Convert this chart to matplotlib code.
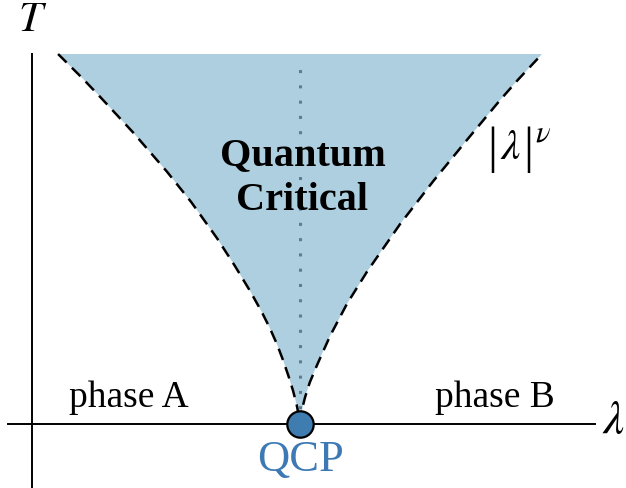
import matplotlib.pyplot as plt

lam_left = [-1.0, -0.9, -0.826, -0.69, -0.55, -0.45, -0.343, -0.27, -0.207, -0.16,
            -0.124, -0.095, -0.070, -0.048, -0.029, -0.014, -0.005, 0.0]
T_left = [1.0, 0.935, 0.884, 0.788, 0.682, 0.600, 0.502, 0.428, 0.360, 0.305,
          0.258, 0.215, 0.172, 0.130, 0.090, 0.052, 0.022, 0.0]
lam_right = [0.0, 0.005, 0.012, 0.021, 0.040, 0.070, 0.124, 0.194, 0.277, 0.413,
             0.55, 0.69, 0.826, 0.9, 1.0]
T_right = [0.0, 0.025, 0.050, 0.073, 0.112, 0.159, 0.238, 0.325, 0.412, 0.540,
           0.656, 0.768, 0.875, 0.93, 1.0]

qcp = (0.0, 0.0)

plt.rcParams['font.family'] = ['Liberation Serif', 'DejaVu Serif']
plt.rcParams['mathtext.fontset'] = 'stix'

fig = plt.figure(figsize=(6.26, 4.88), dpi=100)
ax = fig.add_axes([0, 0, 1, 1])
ax.set_xlim(-1.24, 1.347)
ax.set_ylim(-0.173, 1.146)
ax.axis('off')

# shaded critical fan
ax.fill(lam_left + lam_right, T_left + T_right, color='#aecfdf', lw=0, zorder=1)
ax.plot(lam_left, T_left, color='black', lw=1.8, ls=(0, (4.8, 3)), zorder=3)
ax.plot(lam_right, T_right, color='black', lw=1.8, ls=(0, (4.8, 3)), zorder=3)

# dotted centre line
ax.plot([0, 0], [0, 0.98], color='#5f7d8f', lw=2.2, ls=(0, (1, 4)), zorder=2)

# axes
ax.plot([-1.207, 1.219], [0, 0], color='black', lw=1.4, zorder=2)
ax.plot([-1.107, -1.107], [-0.18, 1.0], color='black', lw=1.4, zorder=2)

ax.plot(*qcp, 'o', ms=19, mfc='#3f7cb0', mec='black', mew=1.6, zorder=5)

ax.text(-1.107, 1.09, '$T$', fontsize=31, ha='center', va='center')
ax.text(1.295, 0.005, r'$\lambda$', fontsize=34, ha='center', va='center')
ax.text(0.01, 0.665, 'Quantum\nCritical', fontsize=29, fontweight='bold',
        ha='center', va='center', linespacing=1.3)

# |lambda|^nu label, bars drawn larger than the lambda
ax.text(0.793, 0.741, '|', fontsize=36, ha='center', va='center')
ax.text(0.868, 0.745, r'$\lambda$', fontsize=31, ha='center', va='center')
ax.text(0.942, 0.741, '|', fontsize=36, ha='center', va='center')
ax.text(1.002, 0.785, r'$\nu$', fontsize=22, ha='center', va='center')

ax.text(-0.707, 0.07, 'phase A', fontsize=27, ha='center', va='center')
ax.text(0.806, 0.07, 'phase B', fontsize=27, ha='center', va='center')
ax.text(0.0, -0.097, 'QCP', fontsize=32, color='#3d7ab5', ha='center', va='center')

fig.savefig('out.png', dpi=100)
